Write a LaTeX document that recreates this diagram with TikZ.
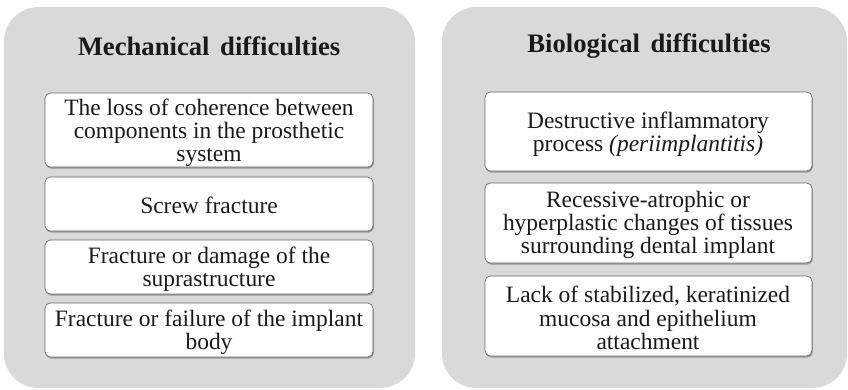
\documentclass[tikz,border=0pt]{standalone}
\usepackage{fontspec}
\setmainfont{Liberation Serif}
\usetikzlibrary{shadows}
\definecolor{panelgray}{HTML}{D9D9D9}
\definecolor{txt}{HTML}{1A1A1A}
\begin{document}
\begin{tikzpicture}[x=0.75pt,y=-0.75pt,
  panel/.style={fill=panelgray,draw=none,rounded corners=26pt},
  itembox/.style={draw=black!60,line width=0.5pt,fill=white,rounded corners=4pt,
     drop shadow={shadow xshift=0.6pt,shadow yshift=-1.2pt,opacity=0.45,fill=black!70}},
  itemtext/.style={align=center,text=txt,font=\fontsize{17.6}{17.4}\selectfont,inner sep=0pt},
  titletext/.style={text=txt,font=\fontsize{20}{22}\selectfont\bfseries,inner sep=0pt}]
\useasboundingbox (0,0) rectangle (848,389);
% panels
\path[panel] (4,7) rectangle (415,388);
\path[panel] (442,7) rectangle (847,388);
\node[titletext] (tm) at (209,46) {Mechanical\hspace{0.15em} difficulties};
\node[titletext] (tb) at (649,46) {Biological\hspace{0.15em} difficulties};
% left boxes
\path[itembox] (45,93) rectangle (373,167);
\node[itemtext] (m1) at (209,133) {The loss of coherence between\\components in the prosthetic\\system};
\path[itembox] (45,177) rectangle (373,231);
\node[itemtext] (m2) at (209,205) {Screw fracture};
\path[itembox] (45,240) rectangle (373,294);
\node[itemtext] (m3) at (209,269) {Fracture or damage of the\\suprastructure};
\path[itembox] (45,303) rectangle (373,357);
\node[itemtext] (m4) at (209,332) {Fracture or failure of the implant\\body};
% right boxes
\path[itembox] (485,92) rectangle (812,171);
\node[itemtext] (b1) at (648,134) {Destructive inflammatory\\process \textit{(periimplantitis)}};
\path[itembox] (485,183) rectangle (812,263);
\node[itemtext] (b2) at (648,225) {Recessive-atrophic or\\hyperplastic changes of tissues\\surrounding dental implant};
\path[itembox] (485,276) rectangle (812,356);
\node[itemtext] (b3) at (648,318) {Lack of stabilized, keratinized\\mucosa and epithelium\\attachment};
\end{tikzpicture}
\end{document}
